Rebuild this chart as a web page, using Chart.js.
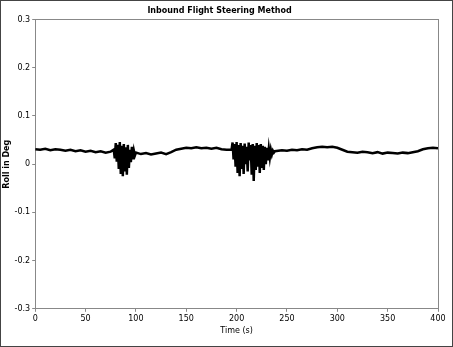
<!DOCTYPE html>
<html>
<head>
<meta charset="utf-8">
<script src="https://cdn.jsdelivr.net/npm/chart.js@4"></script>
<style>
  html, body { margin: 0; padding: 0; background: #fff; }
  #wrap { width: 451px; height: 345px; border: 1px solid #444; position: relative; }
</style>
</head>
<body>
<div id="wrap"><canvas id="rollChart"></canvas></div>
<script>
// temps (s) et roulis
var times = [0,5,10,15,20,25,30,35,40,45,50,55,60,65,70,75,
  78,79,80,81,82,83,84,85,86,87,88,89,90,91,92,93,94,95,96,97,98,99,100,
  105,110,115,120,125,130,135,140,145,150,155,160,165,170,175,180,185,190,
  195,196,197,198,199,200,201,202,203,204,205,206,207,208,209,210,211,212,213,214,215,216,217,218,219,220,221,222,223,224,225,226,227,228,229,230,231,232,233,234,235,236,237,238,
  245,250,255,260,265,270,275,280,285,290,295,300,305,310,315,320,325,330,335,340,345,350,355,360,365,370,375,380,385,390,395,400];
var roll = [0.031,0.030,0.032,0.029,0.031,0.030,0.028,0.030,0.027,0.029,0.026,0.028,0.025,0.027,0.024,0.026,
  0.030,0.012,0.044,0.005,0.040,-0.010,0.046,-0.020,0.038,-0.025,0.042,-0.015,0.035,-0.022,0.040,-0.008,0.030,0.004,0.036,0.010,0.028,0.018,0.024,
  0.021,0.023,0.020,0.022,0.024,0.021,0.025,0.030,0.032,0.034,0.033,0.035,0.033,0.034,0.032,0.034,0.031,0.030,
  0.030,0.045,0.010,0.042,-0.005,0.046,-0.018,0.040,-0.025,0.044,-0.010,0.038,-0.020,0.043,0.000,0.036,-0.015,0.045,0.008,0.040,-0.022,0.042,-0.035,0.038,-0.012,0.044,-0.005,0.040,-0.018,0.042,-0.008,0.038,-0.012,0.036,0.000,0.034,0.008,0.032,0.014,0.030,0.020,0.028,0.024,0.027,
  0.029,0.028,0.030,0.029,0.031,0.030,0.033,0.035,0.036,0.035,0.036,0.034,0.030,0.026,0.025,0.024,0.026,0.025,0.023,0.025,0.022,0.024,0.023,0.022,0.024,0.023,0.025,0.027,0.031,0.033,0.034,0.033];
var xTicks = [0,50,100,150,200,250,300,350,400];
var yTicks = [-0.3,-0.2,-0.1,0,0.1,0.2,0.3];

var points = times.map(function(t, i) { return {x: t, y: roll[i]}; });

var ctx = document.getElementById('rollChart').getContext('2d');
var axisBorder = { display: true, color: '#888', dash: [2, 2], width: 1 };

var myChart = new Chart(ctx, {
  type: 'line',
  data: {
    datasets: [{
      label: 'Roll',
      data: points,
      borderColor: '#000',
      borderWidth: 2.5,
      pointRadius: 0,
      tension: 0,
      fill: false
    }]
  },
  options: {
    responsive: true,
    maintainAspectRatio: false,
    animation: false,
    layout: { padding: { top: 3, right: 14, bottom: 9, left: 0 } },
    plugins: {
      legend: { display: false },
      tooltip: { enabled: false },
      title: {
        display: true,
        text: 'Inbound Flight Steering Method',
        color: '#000',
        font: { family: 'DejaVu Sans', size: 8, weight: 'bold' },
        padding: { top: 2, bottom: 4 }
      }
    },
    scales: {
      x: {
        type: 'linear',
        min: 0,
        max: 400,
        afterBuildTicks: function(axis) { axis.ticks = xTicks.map(function(v) { return {value: v}; }); },
        ticks: { color: '#000', font: { family: 'DejaVu Sans', size: 8 }, padding: 2 },
        grid: { drawOnChartArea: false, drawTicks: true, tickLength: 3, color: '#888' },
        border: axisBorder,
        title: { display: true, text: 'Time (s)', color: '#000', font: { family: 'DejaVu Sans', size: 8 }, padding: 1 }
      },
      x2: {
        type: 'linear',
        position: 'top',
        min: 0,
        max: 400,
        ticks: { display: false },
        grid: { drawOnChartArea: false, drawTicks: false },
        border: axisBorder
      },
      y: {
        min: -0.3,
        max: 0.3,
        afterBuildTicks: function(axis) { axis.ticks = yTicks.map(function(v) { return {value: v}; }); },
        ticks: { color: '#000', font: { family: 'DejaVu Sans', size: 8 }, padding: 2,
          callback: function(value) { return value === 0 ? '0' : value.toFixed(1); } },
        grid: { drawOnChartArea: false, drawTicks: true, tickLength: 3, color: '#888' },
        border: axisBorder,
        title: { display: true, text: 'Roll in Deg', color: '#000', font: { family: 'DejaVu Sans', size: 8, weight: 'bold' }, padding: 1 }
      },
      y2: {
        position: 'right',
        min: -0.3,
        max: 0.3,
        ticks: { display: false },
        grid: { drawOnChartArea: false, drawTicks: false },
        border: axisBorder
      }
    }
  }
});
</script>
</body>
</html>
